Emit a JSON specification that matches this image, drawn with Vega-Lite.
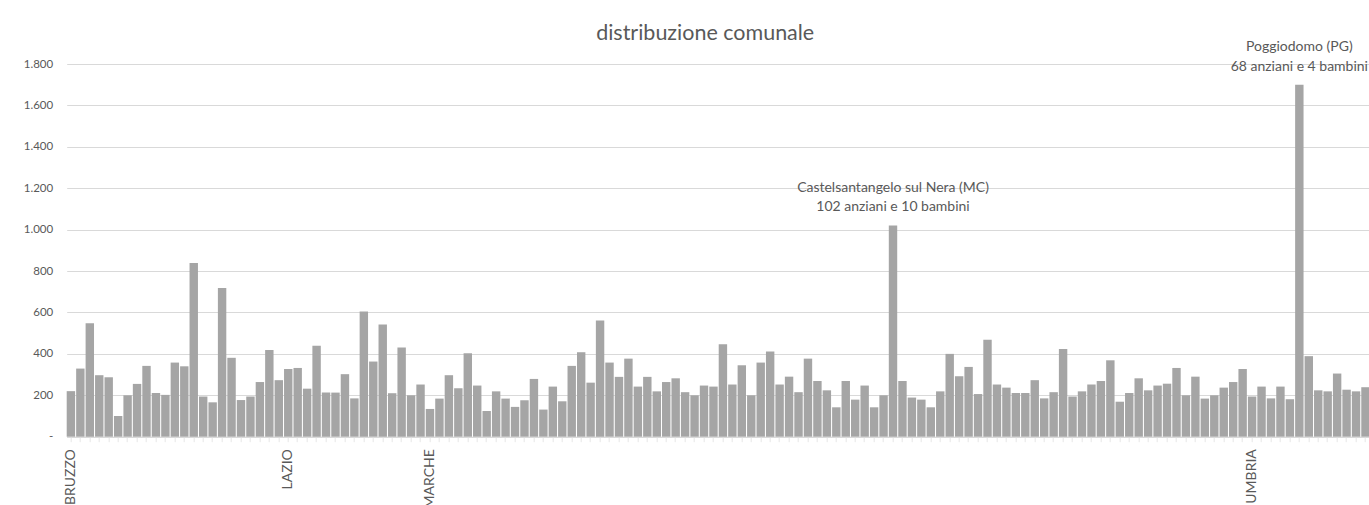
{
  "$schema": "https://vega.github.io/schema/vega-lite/v6.json",
  "autosize": {"type": "none"},
  "width": 1303,
  "height": 372.7,
  "padding": {"left": 66.7, "top": 64, "right": 0, "bottom": 68.3},
  "background": "white",
  "config": {"view": {"stroke": null}, "font": "Lato"},
  "title": {"text": "distribuzione comunale", "fontSize": 21.5, "font": "Lato", "fontWeight": "normal", "color": "#595959", "anchor": "middle", "dx": -13, "baseline": "bottom", "offset": -27},
  "data": {"values": [
    {"n":1,"regione":"ABRUZZO","valore":220},{"n":2,"regione":"ABRUZZO","valore":329},{"n":3,"regione":"ABRUZZO","valore":548},{"n":4,"regione":"ABRUZZO","valore":297},{"n":5,"regione":"ABRUZZO","valore":287},{"n":6,"regione":"ABRUZZO","valore":100},{"n":7,"regione":"ABRUZZO","valore":200},{"n":8,"regione":"ABRUZZO","valore":255},{"n":9,"regione":"ABRUZZO","valore":342},{"n":10,"regione":"ABRUZZO","valore":211},
    {"n":11,"regione":"ABRUZZO","valore":202},{"n":12,"regione":"ABRUZZO","valore":358},{"n":13,"regione":"ABRUZZO","valore":340},{"n":14,"regione":"ABRUZZO","valore":839},{"n":15,"regione":"ABRUZZO","valore":194},{"n":16,"regione":"ABRUZZO","valore":166},{"n":17,"regione":"ABRUZZO","valore":718},{"n":18,"regione":"ABRUZZO","valore":381},{"n":19,"regione":"ABRUZZO","valore":177},{"n":20,"regione":"ABRUZZO","valore":194},
    {"n":21,"regione":"ABRUZZO","valore":264},{"n":22,"regione":"ABRUZZO","valore":419},{"n":23,"regione":"ABRUZZO","valore":273},{"n":24,"regione":"LAZIO","valore":327},{"n":25,"regione":"LAZIO","valore":332},{"n":26,"regione":"LAZIO","valore":232},{"n":27,"regione":"LAZIO","valore":439},{"n":28,"regione":"LAZIO","valore":213},{"n":29,"regione":"LAZIO","valore":213},{"n":30,"regione":"LAZIO","valore":302},
    {"n":31,"regione":"LAZIO","valore":185},{"n":32,"regione":"LAZIO","valore":605},{"n":33,"regione":"LAZIO","valore":363},{"n":34,"regione":"LAZIO","valore":542},{"n":35,"regione":"LAZIO","valore":210},{"n":36,"regione":"LAZIO","valore":431},{"n":37,"regione":"LAZIO","valore":200},{"n":38,"regione":"LAZIO","valore":252},{"n":39,"regione":"MARCHE","valore":134},{"n":40,"regione":"MARCHE","valore":184},
    {"n":41,"regione":"MARCHE","valore":297},{"n":42,"regione":"MARCHE","valore":234},{"n":43,"regione":"MARCHE","valore":403},{"n":44,"regione":"MARCHE","valore":247},{"n":45,"regione":"MARCHE","valore":124},{"n":46,"regione":"MARCHE","valore":219},{"n":47,"regione":"MARCHE","valore":184},{"n":48,"regione":"MARCHE","valore":144},{"n":49,"regione":"MARCHE","valore":176},{"n":50,"regione":"MARCHE","valore":279},
    {"n":51,"regione":"MARCHE","valore":131},{"n":52,"regione":"MARCHE","valore":242},{"n":53,"regione":"MARCHE","valore":171},{"n":54,"regione":"MARCHE","valore":342},{"n":55,"regione":"MARCHE","valore":408},{"n":56,"regione":"MARCHE","valore":261},{"n":57,"regione":"MARCHE","valore":561},{"n":58,"regione":"MARCHE","valore":358},{"n":59,"regione":"MARCHE","valore":289},{"n":60,"regione":"MARCHE","valore":377},
    {"n":61,"regione":"MARCHE","valore":242},{"n":62,"regione":"MARCHE","valore":289},{"n":63,"regione":"MARCHE","valore":219},{"n":64,"regione":"MARCHE","valore":264},{"n":65,"regione":"MARCHE","valore":282},{"n":66,"regione":"MARCHE","valore":215},{"n":67,"regione":"MARCHE","valore":200},{"n":68,"regione":"MARCHE","valore":247},{"n":69,"regione":"MARCHE","valore":242},{"n":70,"regione":"MARCHE","valore":447},
    {"n":71,"regione":"MARCHE","valore":252},{"n":72,"regione":"MARCHE","valore":345},{"n":73,"regione":"MARCHE","valore":200},{"n":74,"regione":"MARCHE","valore":358},{"n":75,"regione":"MARCHE","valore":411},{"n":76,"regione":"MARCHE","valore":252},{"n":77,"regione":"MARCHE","valore":290},{"n":78,"regione":"MARCHE","valore":215},{"n":79,"regione":"MARCHE","valore":377},{"n":80,"regione":"MARCHE","valore":269},
    {"n":81,"regione":"MARCHE","valore":224},{"n":82,"regione":"MARCHE","valore":142},{"n":83,"regione":"MARCHE","valore":269},{"n":84,"regione":"MARCHE","valore":179},{"n":85,"regione":"MARCHE","valore":247},{"n":86,"regione":"MARCHE","valore":142},{"n":87,"regione":"MARCHE","valore":200},{"n":88,"regione":"MARCHE","valore":1020,"nota":"Castelsantangelo sul Nera (MC)\n102 anziani e 10 bambini"},{"n":89,"regione":"MARCHE","valore":269},{"n":90,"regione":"MARCHE","valore":189},
    {"n":91,"regione":"MARCHE","valore":179},{"n":92,"regione":"MARCHE","valore":142},{"n":93,"regione":"MARCHE","valore":219},{"n":94,"regione":"MARCHE","valore":400},{"n":95,"regione":"MARCHE","valore":292},{"n":96,"regione":"MARCHE","valore":337},{"n":97,"regione":"MARCHE","valore":206},{"n":98,"regione":"MARCHE","valore":468},{"n":99,"regione":"MARCHE","valore":252},{"n":100,"regione":"MARCHE","valore":237},
    {"n":101,"regione":"MARCHE","valore":211},{"n":102,"regione":"MARCHE","valore":211},{"n":103,"regione":"MARCHE","valore":273},{"n":104,"regione":"MARCHE","valore":185},{"n":105,"regione":"MARCHE","valore":215},{"n":106,"regione":"MARCHE","valore":423},{"n":107,"regione":"MARCHE","valore":194},{"n":108,"regione":"MARCHE","valore":219},{"n":109,"regione":"MARCHE","valore":252},{"n":110,"regione":"MARCHE","valore":269},
    {"n":111,"regione":"MARCHE","valore":369},{"n":112,"regione":"MARCHE","valore":169},{"n":113,"regione":"MARCHE","valore":211},{"n":114,"regione":"MARCHE","valore":282},{"n":115,"regione":"MARCHE","valore":224},{"n":116,"regione":"MARCHE","valore":247},{"n":117,"regione":"MARCHE","valore":256},{"n":118,"regione":"MARCHE","valore":332},{"n":119,"regione":"MARCHE","valore":200},{"n":120,"regione":"MARCHE","valore":290},
    {"n":121,"regione":"MARCHE","valore":184},{"n":122,"regione":"MARCHE","valore":200},{"n":123,"regione":"MARCHE","valore":237},{"n":124,"regione":"MARCHE","valore":264},{"n":125,"regione":"MARCHE","valore":327},{"n":126,"regione":"UMBRIA","valore":194},{"n":127,"regione":"UMBRIA","valore":242},{"n":128,"regione":"UMBRIA","valore":185},{"n":129,"regione":"UMBRIA","valore":242},{"n":130,"regione":"UMBRIA","valore":181},
    {"n":131,"regione":"UMBRIA","valore":1700,"nota":"Poggiodomo (PG)\n68 anziani e 4 bambini"},{"n":132,"regione":"UMBRIA","valore":389},{"n":133,"regione":"UMBRIA","valore":224},{"n":134,"regione":"UMBRIA","valore":219},{"n":135,"regione":"UMBRIA","valore":305},{"n":136,"regione":"UMBRIA","valore":227},{"n":137,"regione":"UMBRIA","valore":219},{"n":138,"regione":"UMBRIA","valore":239}
  ]},
  "encoding": {
    "x": {
      "field": "n", "type": "ordinal", "title": null,
      "scale": {"paddingInner": 0.11, "paddingOuter": 0},
      "axis": {
        "labelExpr": "datum.value == 1 ? 'ABRUZZO' : datum.value == 24 ? 'LAZIO' : datum.value == 39 ? 'MARCHE' : datum.value == 126 ? 'UMBRIA' : ''",
        "labelAngle": 270, "labelAlign": "right", "labelBaseline": "middle",
        "labelFontSize": 14, "labelColor": "#595959", "labelFont": "Lato",
        "labelOverlap": false, "labelPadding": 7,
        "domainColor": "#d9d9d9", "tickColor": "#e6e6e6", "tickSize": 5
      }
    },
    "y": {
      "field": "valore", "type": "quantitative", "title": null,
      "scale": {"domain": [0, 1800], "nice": false},
      "axis": {
        "values": [0, 200, 400, 600, 800, 1000, 1200, 1400, 1600, 1800],
        "labelExpr": "datum.value == 0 ? '-' : replace(format(datum.value, ','), ',', '.')",
        "grid": true, "gridColor": "#d9d9d9", "domain": false, "ticks": false,
        "labelPadding": 14, "labelFontSize": 11.5, "labelColor": "#595959", "labelFont": "Lato"
      }
    }
  },
  "layer": [
    {"mark": {"type": "bar", "color": "#a5a5a5"}},
    {
      "transform": [{"filter": "isValid(datum.nota)"}],
      "mark": {"type": "text", "lineBreak": "\n", "baseline": "bottom", "dy": -31, "lineHeight": 20, "fontSize": 14, "font": "Lato", "color": "#595959"},
      "encoding": {"text": {"field": "nota", "type": "nominal"}}
    }
  ]
}
